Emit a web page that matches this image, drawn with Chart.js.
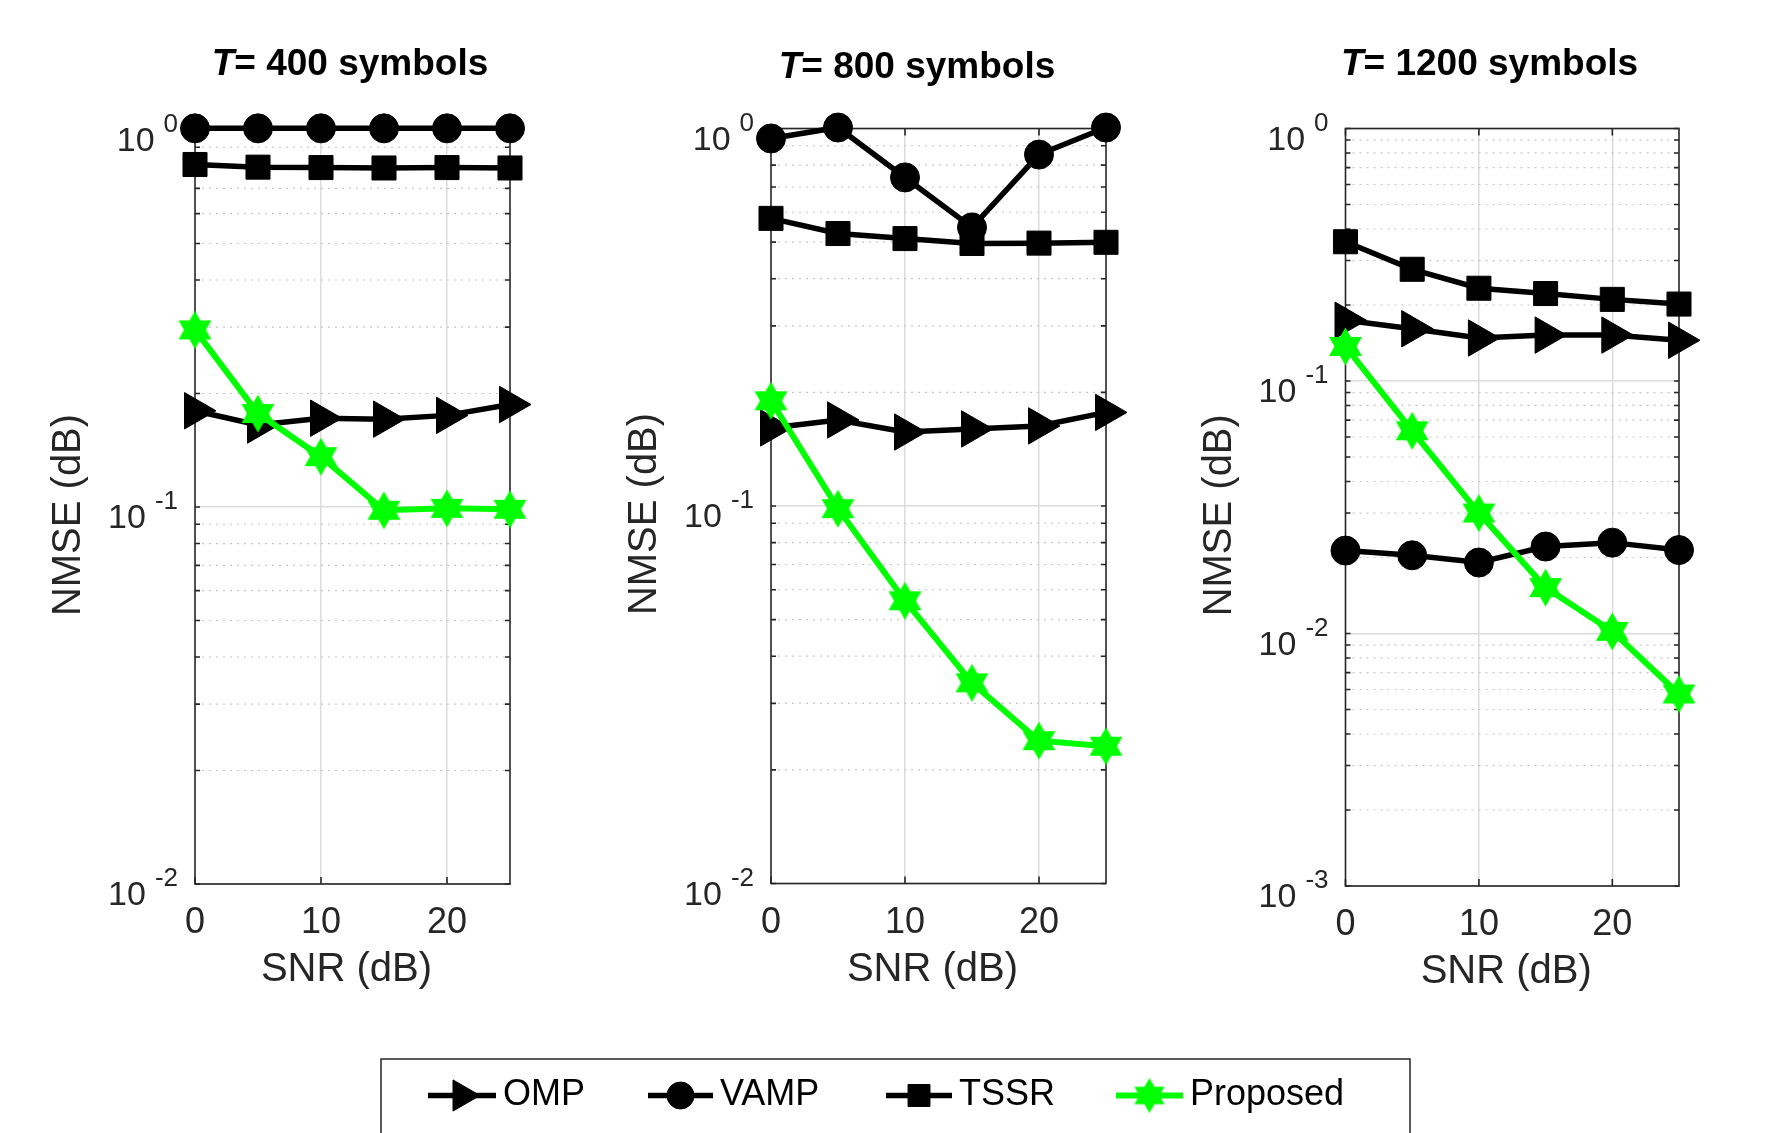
<!DOCTYPE html>
<html>
<head>
<meta charset="utf-8">
<script src="https://cdn.jsdelivr.net/npm/chart.js@4.4.1/dist/chart.umd.min.js"></script>
<style>
  html, body { margin: 0; padding: 0; background: #fff; }
  #wrap { position: relative; width: 1766px; height: 1133px; overflow: hidden; background: #fff; }
  #wrap canvas { position: absolute; left: 0; top: 0; }
</style>
</head>
<body>
<div id="wrap">
  <canvas id="c400" width="1766" height="1133"></canvas>
  <canvas id="c800" width="1766" height="1133"></canvas>
  <canvas id="c1200" width="1766" height="1133"></canvas>
</div>
<script>
// ---- data ----
const snr = [0, 5, 10, 15, 20, 25];
const xTicks = [0, 10, 20];

const omp400  = [0.180, 0.165, 0.172, 0.171, 0.175, 0.187];
const vamp400 = [1.01, 1.01, 1.01, 1.01, 1.01, 1.01];
const tssr400 = [0.810, 0.797, 0.795, 0.793, 0.795, 0.793];
const prop400 = [0.295, 0.177, 0.136, 0.098, 0.0992, 0.0986];

const omp800  = [0.161, 0.169, 0.157, 0.160, 0.163, 0.177];
const vamp800 = [0.941, 1.006, 0.742, 0.547, 0.853, 1.006];
const tssr800 = [0.578, 0.527, 0.511, 0.496, 0.497, 0.4995];
const prop800 = [0.190, 0.0984, 0.0561, 0.034, 0.0239, 0.0231];

const omp1200  = [0.174, 0.161, 0.148, 0.152, 0.152, 0.145];
const vamp1200 = [0.0213, 0.0204, 0.0191, 0.0221, 0.0229, 0.0214];
const tssr1200 = [0.356, 0.277, 0.233, 0.222, 0.2105, 0.2017];
const prop1200 = [0.137, 0.0635, 0.030, 0.0152, 0.0102, 0.00576];

// y tick decades (labels are 10^k)
const decades400 = [-2, -1, 0];
const decades800 = [-2, -1, 0];
const decades1200 = [-3, -2, -1, 0];

const seriesNames = ["OMP", "VAMP", "TSSR", "Proposed"];

// ---- layout (pixels) ----
const FONT = '"Liberation Sans", Arial, Helvetica, sans-serif';
const AXIS_COLOR = "#262626";
const W = 1766, H = 1133;

const panels = [
  { id: "c400", symbols: "400", decades: decades400, data: [omp400, vamp400, tssr400, prop400],
    area: { left: 195, top: 130, right: 510, bottom: 884 }, titleX: 350, titleY: 75 },
  { id: "c800", symbols: "800", decades: decades800, data: [omp800, vamp800, tssr800, prop800],
    area: { left: 771, top: 128.5, right: 1106, bottom: 883.5 }, titleX: 917, titleY: 78 },
  { id: "c1200", symbols: "1200", decades: decades1200, data: [omp1200, vamp1200, tssr1200, prop1200],
    area: { left: 1345.5, top: 128.5, right: 1679, bottom: 886 }, titleX: 1489.5, titleY: 75 },
];

const legendBox = { left: 381, top: 1059, right: 1410 };
const legendSlots = [[428, 496], [648, 713], [886, 952], [1116, 1183]];
const legendY = 1095.5;

// six-pointed star marker (MATLAB 'hexagram')
function hexagram(R, color) {
  const s = Math.ceil(2 * R + 6);
  const cv = document.createElement("canvas");
  cv.width = cv.height = s;
  const g = cv.getContext("2d");
  const c = s / 2;
  g.fillStyle = color; g.strokeStyle = color; g.lineWidth = 1.5;
  for (const off of [-Math.PI / 2, Math.PI / 2]) {
    g.beginPath();
    for (let i = 0; i < 3; i++) {
      const a = off + i * 2 * Math.PI / 3;
      g.lineTo(c + R * Math.cos(a), c + R * Math.sin(a));
    }
    g.closePath(); g.fill(); g.stroke();
  }
  return cv;
}
const starImg = hexagram(17.5, "#00ff00");
const starLegend = hexagram(16, "#00ff00");

// marker style per series (legend markers a bit smaller, as in MATLAB)
const styles = [
  { color: "#000", pointStyle: "triangle", radius: 21, legendRadius: 18, rotation: 90, width: 5.5, order: 3 },
  { color: "#000", pointStyle: "circle", radius: 14.5, legendRadius: 13.5, rotation: 0, width: 5.5, order: 2 },
  { color: "#000", pointStyle: "rect", radius: 17, legendRadius: 15.5, rotation: 0, width: 5.5, order: 1 },
  { color: "#00ff00", pointStyle: starImg, legendStyle: starLegend, radius: 17, legendRadius: 16, rotation: 0, width: 6, order: 0 },
];

function logTicks(decades) {
  const out = [];
  for (let i = 0; i < decades.length - 1; i++) {
    for (let m = 1; m <= 9; m++) out.push({ value: m * Math.pow(10, decades[i]) });
  }
  out.push({ value: Math.pow(10, decades[decades.length - 1]) });
  return out;
}
const isDecade = v => Math.abs(Math.log10(v) - Math.round(Math.log10(v))) < 1e-6;

// MATLAB-like axes: dotted minor grid, box, inward ticks, and all the text
const matlabAxes = {
  id: "matlabAxes",
  beforeDatasetsDraw(chart) {
    const { ctx, chartArea: a, scales: { x, y } } = chart;
    ctx.save();
    ctx.strokeStyle = "#c6c6c6"; ctx.lineWidth = 1.2; ctx.setLineDash([2, 5]);
    y.ticks.filter(t => !isDecade(t.value)).forEach(t => {
      const py = y.getPixelForValue(t.value);
      ctx.beginPath(); ctx.moveTo(a.left, py); ctx.lineTo(a.right, py); ctx.stroke();
    });
    ctx.setLineDash([]);
    ctx.strokeStyle = AXIS_COLOR; ctx.lineWidth = 1.6;
    ctx.strokeRect(a.left, a.top, a.right - a.left, a.bottom - a.top);
    ctx.beginPath();
    y.ticks.forEach(t => {
      const py = y.getPixelForValue(t.value);
      ctx.moveTo(a.left, py); ctx.lineTo(a.left + 5, py);
      ctx.moveTo(a.right, py); ctx.lineTo(a.right - 5, py);
    });
    x.ticks.forEach(t => {
      const px = x.getPixelForValue(t.value);
      ctx.moveTo(px, a.bottom); ctx.lineTo(px, a.bottom - 7);
      ctx.moveTo(px, a.top); ctx.lineTo(px, a.top + 7);
    });
    ctx.stroke();
    ctx.restore();
  },
  afterDraw(chart, args, opts) {
    const { ctx, chartArea: a, scales: { x, y } } = chart;
    ctx.save();
    // title: italic T, bold rest
    ctx.fillStyle = "#000";
    ctx.textBaseline = "alphabetic"; ctx.textAlign = "left";
    const rest = "= " + opts.symbols + " symbols";
    ctx.font = `italic bold 37px ${FONT}`;
    const wT = ctx.measureText("T").width;
    ctx.font = `bold 37px ${FONT}`;
    const wR = ctx.measureText(rest).width;
    const tx = opts.titleX - (wT + wR) / 2;
    ctx.font = `italic bold 37px ${FONT}`;
    ctx.fillText("T", tx, opts.titleY);
    ctx.font = `bold 37px ${FONT}`;
    ctx.fillText(rest, tx + wT, opts.titleY);

    // y tick labels 10^k
    ctx.fillStyle = AXIS_COLOR;
    ctx.textAlign = "right";
    opts.decades.forEach(k => {
      const py = y.getPixelForValue(Math.pow(10, k));
      const exp = String(k);
      const ex = a.left - 17;
      ctx.font = `26px ${FONT}`;
      ctx.fillText(exp, ex, py + 2);
      const ew = ctx.measureText(exp).width;
      ctx.font = `34px ${FONT}`;
      ctx.fillText("10", ex - ew - 9, py + 21);
    });

    // x tick labels
    ctx.textAlign = "center";
    ctx.font = `36px ${FONT}`;
    x.ticks.forEach(t => ctx.fillText(String(t.value), x.getPixelForValue(t.value), a.bottom + 49));

    // axis titles
    ctx.font = `40px ${FONT}`;
    ctx.fillText("SNR (dB)", (a.left + a.right) / 2 - 6, a.bottom + 97);
    ctx.translate(a.left - 115, (a.top + a.bottom) / 2 + 8);
    ctx.rotate(-Math.PI / 2);
    ctx.fillText("NMSE (dB)", 0, 0);
    ctx.restore();
  }
};

// one legend shared by the three panels
const sharedLegend = {
  id: "sharedLegend",
  afterDraw(chart) {
    const ctx = chart.ctx;
    ctx.save();
    ctx.fillStyle = "#fff";
    ctx.fillRect(legendBox.left, legendBox.top, legendBox.right - legendBox.left, H);
    ctx.strokeStyle = AXIS_COLOR; ctx.lineWidth = 1.5;
    ctx.strokeRect(legendBox.left, legendBox.top, legendBox.right - legendBox.left, H);
    chart.data.datasets.forEach((ds, i) => {
      const [x0, x1] = legendSlots[i];
      const st = styles[i];
      ctx.strokeStyle = st.color; ctx.lineWidth = st.width;
      ctx.beginPath(); ctx.moveTo(x0, legendY); ctx.lineTo(x1, legendY); ctx.stroke();
      ctx.fillStyle = st.color; ctx.lineWidth = 1;
      Chart.helpers.drawPoint(ctx, { pointStyle: st.legendStyle || st.pointStyle, rotation: st.rotation, radius: st.legendRadius, borderWidth: 1 },
        (x0 + x1) / 2, legendY);
      ctx.fillStyle = "#000";
      ctx.font = `36px ${FONT}`;
      ctx.textAlign = "left"; ctx.textBaseline = "middle";
      ctx.fillText(ds.label, x1 + 7, legendY);
    });
    ctx.restore();
  }
};

panels.forEach((p, pi) => {
  const datasets = seriesNames.map((name, i) => ({
    label: name,
    data: snr.map((s, j) => ({ x: s, y: p.data[i][j] })),
    borderColor: styles[i].color,
    backgroundColor: styles[i].color,
    pointBackgroundColor: styles[i].color,
    pointBorderColor: styles[i].color,
    pointBorderWidth: 1,
    pointStyle: styles[i].pointStyle,
    pointRadius: styles[i].radius,
    pointRotation: styles[i].rotation,
    borderWidth: styles[i].width,
    tension: 0,
    fill: false,
    clip: false,
    order: styles[i].order,
  }));

  new Chart(document.getElementById(p.id), {
    type: "line",
    data: { datasets },
    options: {
      responsive: false,
      devicePixelRatio: 1,
      animation: false,
      events: [],
      layout: { padding: { left: p.area.left, top: p.area.top, right: W - p.area.right, bottom: H - p.area.bottom } },
      plugins: {
        legend: { display: false },
        tooltip: { enabled: false },
        matlabAxes: { symbols: p.symbols, decades: p.decades, titleX: p.titleX, titleY: p.titleY },
      },
      scales: {
        x: {
          type: "linear", min: 0, max: 25,
          afterBuildTicks: s => { s.ticks = xTicks.map(v => ({ value: v })); },
          ticks: { display: false },
          grid: { drawTicks: false, lineWidth: 1.5, color: c => (c.tick && c.tick.value > 0 ? "#dcdcdc" : "rgba(0,0,0,0)") },
          border: { display: false },
          title: { display: false },
        },
        y: {
          type: "logarithmic",
          min: Math.pow(10, p.decades[0]), max: Math.pow(10, p.decades[p.decades.length - 1]),
          afterBuildTicks: s => { s.ticks = logTicks(p.decades); },
          ticks: { display: false },
          grid: { drawTicks: false, lineWidth: 1.5, color: c => (c.tick && isDecade(c.tick.value) ? "#dcdcdc" : "rgba(0,0,0,0)") },
          border: { display: false },
          title: { display: false },
        },
      },
    },
    plugins: pi === 2 ? [matlabAxes, sharedLegend] : [matlabAxes],
  });
});
</script>
</body>
</html>
